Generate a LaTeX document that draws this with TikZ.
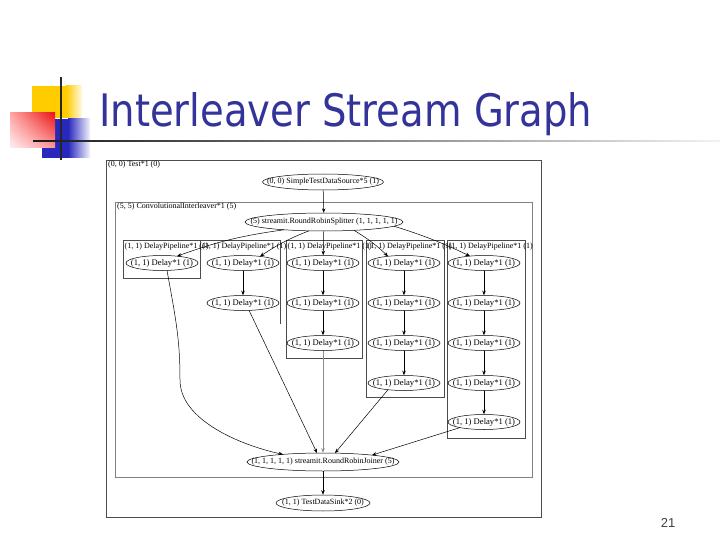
\documentclass[tikz,border=0pt]{standalone}
\usepackage{graphicx}
\usepackage{fontspec}
\setmainfont{Liberation Serif}
\newfontfamily\titlefont{DejaVu Sans}
\newfontfamily\numfont{Liberation Sans}
\usetikzlibrary{shapes.geometric,arrows.meta,shadings}
\definecolor{titleblue}{RGB}{51,51,153}
\definecolor{logoyellow}{RGB}{255,204,0}
\definecolor{logored}{RGB}{235,20,20}
\definecolor{logoblue}{RGB}{40,40,190}
\newcommand{\zw}[1]{\makebox[0pt]{#1}}
\tikzset{
  box/.style={draw=black!70, line width=0.8pt},
  ibox/.style={draw=black!50, line width=0.9pt},
  gnode/.style={ellipse, draw, line width=0.5pt, inner sep=0pt, font=\fontsize{8}{8}\selectfont},
  dly/.style={gnode, minimum width=72pt, minimum height=15pt, font=\fontsize{8.6}{8.6}\selectfont},
  lbl/.style={anchor=base west, inner sep=0pt, font=\fontsize{8}{8}\selectfont},
  edge/.style={line width=0.5pt, -{Stealth[length=4.5pt,width=3.5pt]}},
}
\begin{document}
\begin{tikzpicture}[x=1pt,y=-1pt]
\useasboundingbox[fill=white] (0,0) rectangle (720,540);
% logo
\fill[logoyellow] (32,86) rectangle (66,118);
\shade[left color=logoyellow, right color=logoyellow!10] (66,86) rectangle (82,118);
\fill[logoblue] (42,119) rectangle (68,158);
\shade[left color=logoblue, right color=logoblue!5] (68,119) rectangle (90,158);
\shade[upper right=logored, upper left=red!35, lower left=red!6, lower right=red!40] (10,113) rectangle (55,148);
\shade[left color=black!90, right color=black!5] (33,140.2) rectangle (720,141.8);
\draw[line width=1.6pt, black!85] (61,77) -- (61,160);
% title
\node[anchor=base west, inner sep=0pt, text=titleblue] (title) at (99,127)
  {\resizebox{493pt}{34pt}{\titlefont Interleaver Stream Graph}};
\node[anchor=base, inner sep=0pt, text=black!75, font=\numfont\fontsize{13}{13}\selectfont] (pg) at (668,527) {21};
% clusters
\draw[box] (106,160) rectangle (541,517);
\node[lbl] (l0) at (108,167) {(0, 0) Test*1 (0)};
\draw[ibox] (115,202) rectangle (532,477);
\node[lbl] (l1) at (117,208) {(5, 5) ConvolutionalInterleaver*1 (5)};
\draw[box] (123,240) rectangle (200,278);
\draw[box] (200,240) -- (280,240) -- (280,324);
\draw[box] (286,240) rectangle (362,358);
\draw[box] (366,240) rectangle (444,397);
\draw[box] (447,240) rectangle (525,438);
\node[lbl] (p1) at (124.5,248) {(1, 1) DelayPipeline*1 (1)};
\node[lbl] (p2) at (202,248) {(1, 1) DelayPipeline*1 (1)};
\node[lbl] (p3) at (287.5,248) {(1, 1) DelayPipeline*1 (1)};
\node[lbl] (p4) at (367.5,248) {(1, 1) DelayPipeline*1 (1)};
\node[lbl] (p5) at (448.5,248) {(1, 1) DelayPipeline*1 (1)};
% nodes
\node[gnode, minimum width=121pt, minimum height=16pt] (src) at (323,182) {\zw{(0, 0) SimpleTestDataSource*5 (1)}};
\node[gnode, minimum width=158pt, minimum height=18pt] (spl) at (324,222) {\zw{(5) streamit.RoundRobinSplitter (1, 1, 1, 1, 1)}};
\node[gnode, minimum width=152pt, minimum height=18pt] (join) at (323,462) {\zw{(1, 1, 1, 1, 1) streamit.RoundRobinJoiner (5)}};
\node[gnode, minimum width=94pt, minimum height=16pt] (sink) at (323,503) {\zw{(1, 1) TestDataSink*2 (0)}};
\foreach \c/\x in {1/162,2/243,3/323,4/404,5/484}{
  \foreach \r/\y in {1/263,2/303,3/343,4/383,5/422}{
    \ifnum\r>\c\relax\else
      \node[dly] (d\c\r) at (\x,\y) {\zw{(1, 1) Delay*1 (1)}};
    \fi
  }
}
% edges
\draw[edge] (src) -- (spl);
\draw[edge] ([xshift=-40pt,yshift=-7.8pt]spl.center) to[bend right=6] ([xshift=15pt,yshift=6.8pt]d11.center);
\draw[edge] ([xshift=-15pt,yshift=-8.8pt]spl.center) to[bend right=6] ([xshift=17pt,yshift=6.6pt]d21.center);
\draw[edge] (spl) -- (d31);
\draw[edge] ([xshift=30pt,yshift=-8.3pt]spl.center) to[bend left=6] ([xshift=-16pt,yshift=6.7pt]d41.center);
\draw[edge] ([xshift=70pt,yshift=-4.2pt]spl.center) to[bend left=4] ([xshift=-14pt,yshift=6.9pt]d51.center);
\draw[edge] (d21) -- (d22);
\draw[edge] (d31) -- (d32);
\draw[edge] (d32) -- (d33);
\draw[edge] (d41) -- (d42);
\draw[edge] (d42) -- (d43);
\draw[edge] (d43) -- (d44);
\draw[edge] (d51) -- (d52);
\draw[edge] (d52) -- (d53);
\draw[edge] (d53) -- (d54);
\draw[edge] (d54) -- (d55);
\draw[edge] ([xshift=5pt,yshift=-7.4pt]d11.center) .. controls (176,320) and (180,340) .. (180,380)
  .. controls (180,420) and (240,445) .. ([xshift=-40pt,yshift=7.6pt]join.center);
\draw[edge] ([xshift=6pt,yshift=-7.3pt]d22.center) -- ([xshift=-6pt,yshift=9pt]join.center);
\draw[edge, draw=black!45] (d33) -- (join);
\draw[edge] ([xshift=-16pt,yshift=-6.7pt]d44.center) -- ([xshift=12pt,yshift=8.9pt]join.center);
\draw[edge] ([xshift=-24pt,yshift=-5.6pt]d55.center) -- ([xshift=49pt,yshift=6.9pt]join.center);
\draw[edge] (join) -- (sink);
\end{tikzpicture}
\end{document}
